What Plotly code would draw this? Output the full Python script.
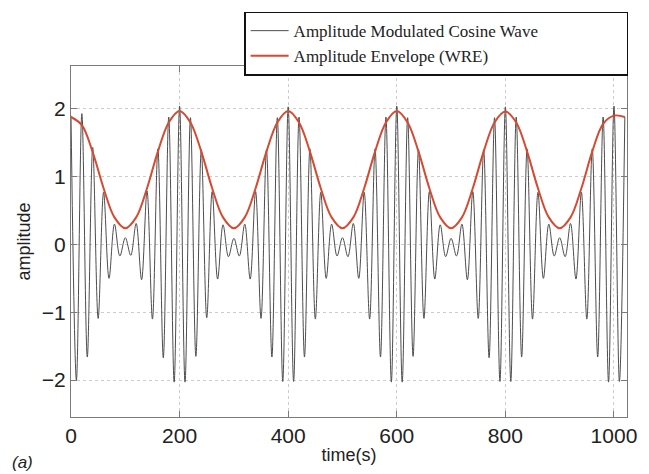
import plotly.graph_objects as go

# sampling grid of carrier extrema (s)
t_wave = list(range(0, 1021, 10))
# carrier extrema values (alternating peaks / troughs)
wave_vals = [
    1.90, -2.00, 1.93, -1.66, 1.43, -1.09, 0.77, -0.50, 0.30, -0.17,
    0.10, -0.16, 0.31, -0.52, 0.79, -1.10, 1.41, -1.67, 1.88, -2.03,
    2.04, -2.03, 1.87, -1.65, 1.40, -1.08, 0.78, -0.51, 0.29, -0.18,
    0.09, -0.17, 0.30, -0.51, 0.78, -1.09, 1.40, -1.66, 1.87, -2.02,
    2.03, -2.02, 1.88, -1.66, 1.41, -1.10, 0.77, -0.50, 0.30, -0.17,
    0.10, -0.18, 0.31, -0.50, 0.77, -1.10, 1.41, -1.66, 1.88, -2.03,
    2.04, -2.03, 1.87, -1.65, 1.40, -1.09, 0.78, -0.51, 0.29, -0.18,
    0.09, -0.17, 0.30, -0.52, 0.78, -1.09, 1.40, -1.67, 1.87, -2.02,
    2.03, -2.02, 1.88, -1.66, 1.41, -1.10, 0.77, -0.50, 0.30, -0.17,
    0.10, -0.18, 0.31, -0.51, 0.77, -1.10, 1.41, -1.66, 1.88, -2.03,
    2.04, -2.02, 1.88,
]

t_env = list(range(0, 1021, 20))
env_vals = [
    1.88, 1.76, 1.36, 0.83, 0.40, 0.24, 0.40, 0.83, 1.37, 1.80,
    1.97, 1.80, 1.37, 0.83, 0.40, 0.24, 0.40, 0.83, 1.37, 1.80,
    1.97, 1.80, 1.37, 0.83, 0.40, 0.24, 0.40, 0.83, 1.37, 1.80,
    1.97, 1.80, 1.37, 0.83, 0.40, 0.24, 0.40, 0.83, 1.37, 1.80,
    1.96, 1.80, 1.37, 0.83, 0.40, 0.24, 0.40, 0.83, 1.37, 1.78,
    1.90, 1.88,
]

x_ticks = [0, 200, 400, 600, 800, 1000]
y_ticks = [-2, -1, 0, 1, 2]

fig = go.Figure()
fig.add_trace(go.Scatter(
    x=t_wave, y=wave_vals, mode="lines",
    line=dict(color="#4d4d4d", width=1, shape="spline", smoothing=1.0),
    name="Amplitude Modulated Cosine Wave",
))
fig.add_trace(go.Scatter(
    x=t_env, y=env_vals, mode="lines",
    line=dict(color="#d64a32", width=2, shape="spline", smoothing=1.0),
    name="Amplitude Envelope (WRE)",
))

axis_common = dict(
    showline=True, linecolor="#7a7a7a", linewidth=1, mirror="ticks",
    ticks="inside", ticklen=6, tickcolor="#7a7a7a",
    showgrid=True, gridcolor="#cccccc", griddash="dot", gridwidth=1,
    zeroline=False,
    tickfont=dict(family="Liberation Sans, Arial", size=21, color="#222"),
)

fig.update_xaxes(
    range=[0, 1024], tickvals=x_ticks, ticktext=[str(v) for v in x_ticks],
    title=dict(text="time(s)", font=dict(family="Liberation Sans, Arial", size=18, color="#222"), standoff=2),
    **axis_common,
)
fig.update_yaxes(
    range=[-2.544, 2.632], tickvals=y_ticks,
    ticktext=["\u22122", "\u22121", "0", "1", "2"],
    title=dict(text="amplitude", font=dict(family="Liberation Sans, Arial", size=18, color="#222"), standoff=6),
    **axis_common,
)

fig.update_layout(
    width=649, height=474,
    margin=dict(l=71, r=19, t=65, b=57),
    paper_bgcolor="white", plot_bgcolor="white",
    showlegend=True,
    legend=dict(
        orientation="h",
        x=1.002, xanchor="right", y=1.155, yanchor="top",
        bgcolor="white", bordercolor="#111", borderwidth=1.5,
        font=dict(family="Liberation Serif, Times New Roman", size=17, color="#222"),
        itemwidth=38, entrywidth=328, entrywidthmode="pixels", tracegroupgap=0,
    ),
    annotations=[dict(
        text="<i>(a)</i>", xref="paper", yref="paper",
        x=-0.11, y=-0.13, xanchor="left", yanchor="middle",
        showarrow=False, font=dict(family="Liberation Sans, Arial", size=17, color="#222"),
    )],
)

fig.write_html("out.html")
